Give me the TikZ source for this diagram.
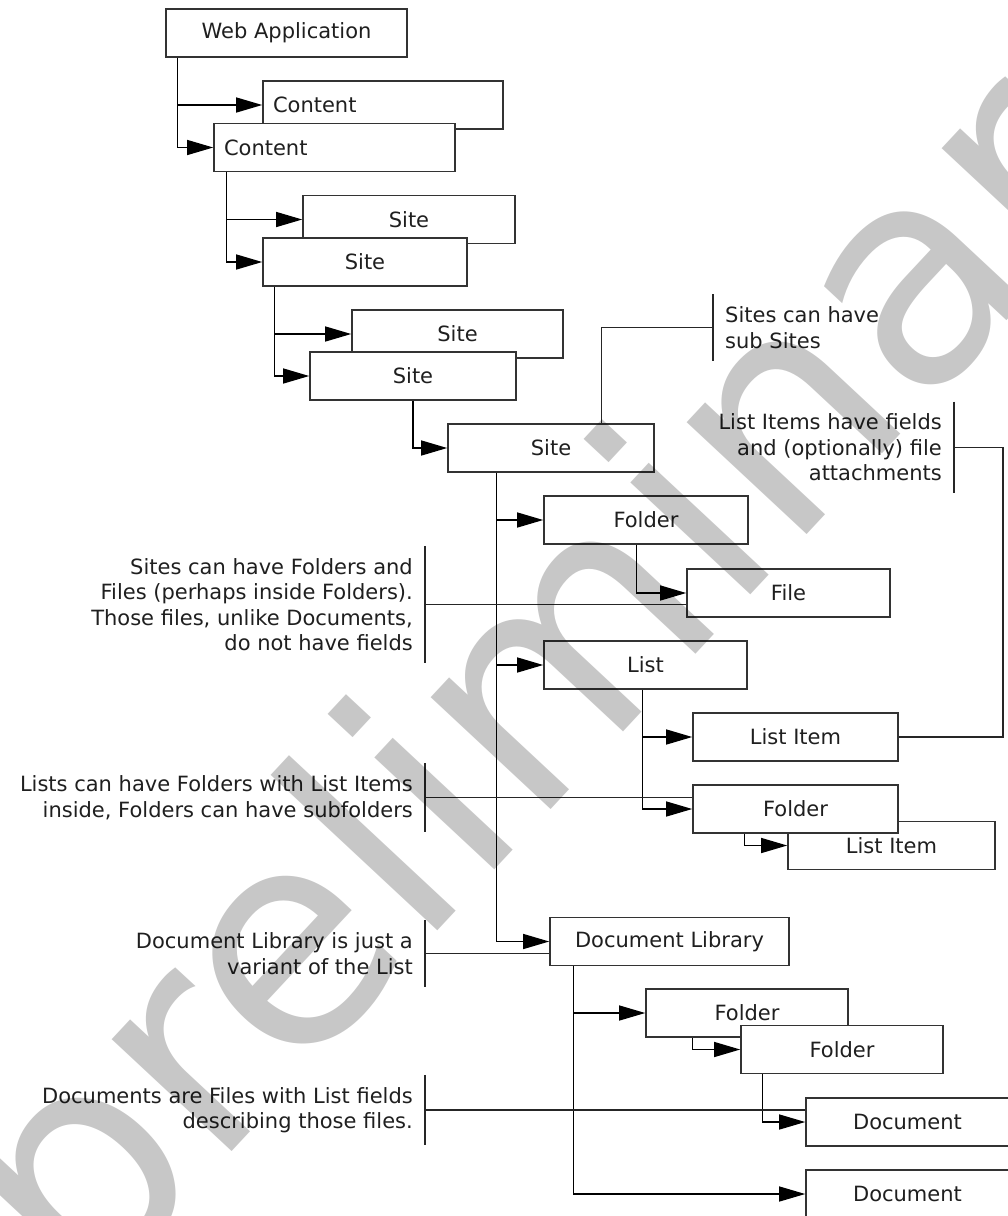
\documentclass[tikz,border=0pt]{standalone}
\usepackage{fontspec}
\setmainfont{DejaVu Sans}
\usetikzlibrary{arrows.meta, positioning}

\begin{document}
\begin{tikzpicture}[x=1pt, y=-1pt,
        every node/.style={font=\fontsize{21}{25.5}\selectfont, text=black!88},
        obj/.style={draw=black!80, fill=white, line width=1.6pt, minimum width=205pt, minimum height=48pt, inner sep=0pt},
        leftobj/.style={obj, align=left, inner xsep=10pt},
        note/.style={inner xsep=12pt, inner ysep=12pt},
        link/.style={draw=black, line width=1.3pt, -{Triangle[length=26pt, width=15pt]}},
        wire/.style={draw=black!85, line width=1.3pt},
        wmark/.style={text=black!22, font=\fontsize{300}{300}\selectfont, inner sep=0pt, blend mode=multiply}]
        \useasboundingbox (0,0) rectangle (1008,1216);
        \node[obj, minimum width=241pt] (webapp) at (286.5,33) {Web Application};
        \node[leftobj, text width=220pt] (contentb) at (383,105) {Content};
        \node[leftobj, text width=221pt] (content) at (334.5,147.5) {Content};
        \node[obj, minimum width=212pt] (siteb1) at (409,219.5) {Site};
        \node[obj, minimum width=204pt] (site1) at (365,262) {Site};
        \node[obj, minimum width=211pt] (siteb2) at (457.5,334) {Site};
        \node[obj, minimum width=206pt] (site2) at (413,376) {Site};
        \node[obj, minimum width=206pt] (site) at (551,448) {Site};
        \node[obj, minimum width=204pt] (folder) at (646,520) {Folder};
        \node[obj, minimum width=203pt] (file) at (788.5,593) {File};
        \node[obj, minimum width=203pt] (list) at (645.5,665) {List};
        \node[obj] (item) at (795.5,737) {List Item};
        \node[obj, minimum width=207pt] (itemb) at (891.5,845.5) {List Item};
        \node[obj] (lfolder) at (795.5,809) {Folder};
        \node[obj, minimum width=239pt] (doclib) at (669.5,941.5) {Document Library};
        \node[obj, minimum width=202pt] (dfolder) at (747,1013) {Folder};
        \node[obj, minimum width=202pt] (dfolderb) at (842,1049.5) {Folder};
        \node[obj, minimum width=203pt] (doc) at (907.5,1122) {Document};
        \node[obj, minimum width=203pt] (docb) at (907.5,1194) {Document};

        \draw[link] ([xshift=12pt]webapp.south west) |- (contentb.west);
        \draw[link] ([xshift=12pt]webapp.south west) |- (content.west);
        \draw[link] ([xshift=13pt]content.south west) |- (siteb1.west);
        \draw[link] ([xshift=13pt]content.south west) |- (site1.west);
        \draw[link] ([xshift=12pt]site1.south west) |- (siteb2.west);
        \draw[link] ([xshift=12pt]site1.south west) |- (site2.west);
        \draw[link] (site2.south) |- (site.west);
        \draw[link] ([xshift=49pt]site.south west) |- (folder.west);
        \draw[link] ([xshift=49pt]site.south west) |- (list.west);
        \draw[link] ([xshift=49pt]site.south west) |- (doclib.west);
        \draw[link] ([xshift=93pt]folder.south west) |- (file.west);
        \draw[link] ([xshift=99pt]list.south west) |- (item.west);
        \draw[link] ([xshift=99pt]list.south west) |- (lfolder.west);
        \draw[link] ([xshift=52pt]lfolder.south west) |- (itemb.west);
        \draw[link] ([xshift=24pt]doclib.south west) |- (dfolder.west);
        \draw[link] ([xshift=24pt]doclib.south west) |- (docb.west);
        \draw[link] ([xshift=47pt]dfolder.south west) |- (dfolderb.west);
        \draw[link] ([xshift=22pt]dfolderb.south west) |- (doc.west);

        \node[note, anchor=west, align=left] (subnote) at (713,327.5) {Sites can have\\sub Sites};
        \draw[wire] (subnote.north west) -- (subnote.south west);
        \draw[wire] (subnote.west) -| ([xshift=154pt]site.north west);
        \node[note, anchor=east, align=right] (itemnote) at (954,447.5) {List Items have fields\\and (optionally) file\\attachments};
        \draw[wire] (itemnote.north east) -- (itemnote.south east);
        \draw[wire] (itemnote.east) -- ++(49,0) |- (item.east);
        \node[note, anchor=east, align=right] (filenote) at (425,604.5) {Sites can have Folders and\\Files (perhaps inside Folders).\\Those files, unlike Documents,\\do not have fields};
        \draw[wire] (filenote.north east) -- (filenote.south east);
        \draw[wire] (filenote.east) -- (filenote.east -| file.west);
        \node[note, anchor=east, align=right] (foldernote) at (425,797.5) {Lists can have Folders with List Items\\inside, Folders can have subfolders};
        \draw[wire] (foldernote.north east) -- (foldernote.south east);
        \draw[wire] (foldernote.east) -- (foldernote.east -| lfolder.west);
        \node[note, anchor=east, align=right] (libnote) at (425,953.5) {Document Library is just a\\variant of the List};
        \draw[wire] (libnote.north east) -- (libnote.south east);
        \draw[wire] (libnote.east) -- (libnote.east -| doclib.west);
        \node[note, anchor=east, align=right] (docnote) at (425,1110) {Documents are Files with List fields\\describing those files.};
        \draw[wire] (docnote.north east) -- (docnote.south east);
        \draw[wire] (docnote.east) -- (docnote.east -| doc.west);

        \node[wmark, rotate=47, anchor=base west] (stamp) at (83,1311) {preliminary};
\end{tikzpicture}
\end{document}
